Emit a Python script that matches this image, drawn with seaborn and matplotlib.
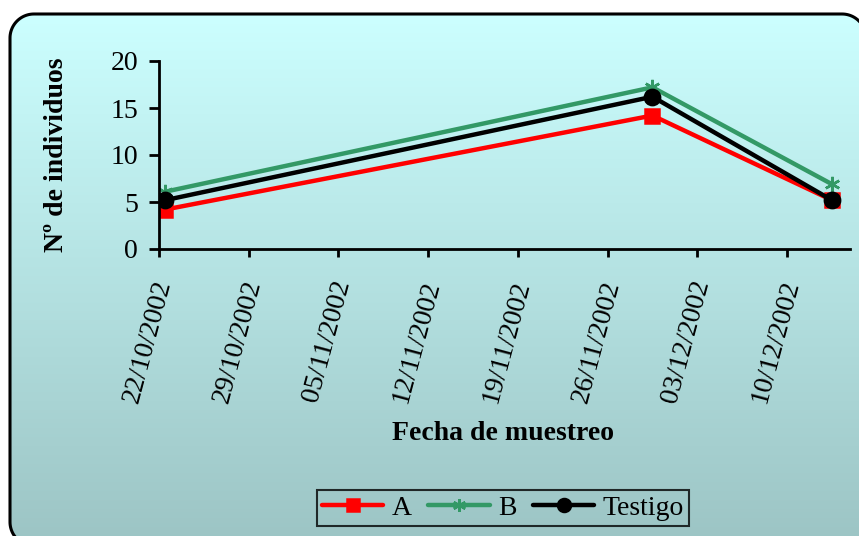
import numpy as np
import pandas as pd
import matplotlib
matplotlib.use("Agg")
import matplotlib.pyplot as plt
import matplotlib.dates as mdates
import matplotlib.transforms as mtransforms
from matplotlib.patches import Polygon
from matplotlib.lines import Line2D
import seaborn as sns

# data
fechas = pd.to_datetime(["2002-10-22 12:00", "2002-11-29 12:00", "2002-12-13 12:00"])
serie_a = [4.2, 14.2, 5.2]
serie_b = [6.1, 17.2, 6.9]
testigo = [5.2, 16.2, 5.2]
tick_fechas = pd.date_range("2002-10-22", periods=8, freq="7D")

sns.set_theme(style="white")
plt.rcParams["font.family"] = ["Liberation Serif", "DejaVu Serif"]
plt.rcParams["font.size"] = 20
for k in ["text.color", "axes.labelcolor", "xtick.color", "ytick.color"]:
    plt.rcParams[k] = "black"

W, H = 859, 536
fig = plt.figure(figsize=(W / 100, H / 100), dpi=100)
fig.patch.set_facecolor("white")


def rounded_rect(x0, x1, y0, y1, r, n=24):
    pts = []
    corners = [(x1 - r, y1 - r, 0), (x0 + r, y1 - r, 90),
               (x0 + r, y0 + r, 180), (x1 - r, y0 + r, 270)]
    for cx, cy, a0 in corners:
        a = np.radians(np.linspace(a0, a0 + 90, n))
        pts.extend(zip(cx + r * np.cos(a), cy + r * np.sin(a)))
    return np.array(pts)


# background: rounded box with vertical gradient (pixel coords, y up)
bg = fig.add_axes([0, 0, 1, 1], zorder=-1)
top_c = np.array([204, 255, 255]) / 255
bot_c = np.array([156, 196, 196]) / 255
t = np.linspace(0, 1, 256)[:, None]
grad = (top_c * (1 - t) + bot_c * t)[:, None, :]
x0, x1, y0, y1, r = 10, 866, H - 546, H - 14, 24
im = bg.imshow(grad, extent=[x0, x1, y0, y1], aspect="auto", zorder=0)
bg.set_xlim(0, W)
bg.set_ylim(0, H)
bg.axis("off")
box = Polygon(rounded_rect(x0, x1, y0, y1, r), closed=True, transform=bg.transData,
              facecolor="none", edgecolor="black", lw=2.2)
bg.add_patch(box)
im.set_clip_path(box)

ax = fig.add_axes([159 / W, 1 - 249 / H, (850 - 159) / W, (249 - 61) / H])
ax.set_facecolor("none")

estilos = [
    ("A", serie_a, "#ff0000", "s", 10),
    ("B", serie_b, "#339966", (6, 2, 0), 11),
    ("Testigo", testigo, "black", "o", 11),
]
handles = []
for nombre, vals, col, mk, ms in estilos:
    df = pd.DataFrame({"fecha": fechas, "n": vals})
    sns.lineplot(data=df, x="fecha", y="n", ax=ax, color=col, lw=3.2,
                 marker=mk, markersize=ms, markeredgecolor=col,
                 markerfacecolor=col, markeredgewidth=1.8, label=nombre,
                 legend=False)
    handles.append(Line2D([], [], color=col, lw=3.2, marker=mk, markersize=ms * 0.85,
                          markeredgecolor=col, markerfacecolor=col,
                          markeredgewidth=1.8, label=nombre))

ax.set_ylim(0, 20)
ax.set_yticks([0, 5, 10, 15, 20])
ax.set_xlim(pd.Timestamp("2002-10-22"), pd.Timestamp("2002-12-14 22:00"))
ax.set_xticks(tick_fechas)
ax.xaxis.set_major_formatter(mdates.DateFormatter("%d/%m/%Y"))

for side in ["top", "right"]:
    ax.spines[side].set_visible(False)
for side in ["left", "bottom"]:
    ax.spines[side].set_color("black")
    ax.spines[side].set_linewidth(2)

ax.tick_params(axis="y", direction="out", length=7, width=2, pad=8,
               labelsize=20, colors="black", left=True)
ax.tick_params(axis="x", direction="out", length=6, width=2, pad=17,
               labelsize=20, colors="black", bottom=True)
off = mtransforms.ScaledTranslation(5 / 100, 0, fig.dpi_scale_trans)
for lab in ax.get_xticklabels():
    lab.set_rotation(75)
    lab.set_ha("right")
    lab.set_va("center")
    lab.set_rotation_mode("anchor")
    lab.set_transform(lab.get_transform() + off)

ax.set_xlabel("")
ax.set_ylabel("")
fig.text(503 / W, 1 - 433 / H, "Fecha de muestreo", ha="center", va="center",
         fontsize=20, fontweight="bold")
fig.text(57 / W, 1 - 155 / H, "Nº de individuos", ha="center", va="center",
         rotation=90, fontsize=20, fontweight="bold")

leg = fig.legend(handles=handles, loc="center", bbox_to_anchor=(503 / W, 1 - 508 / H),
                 ncol=3, frameon=True, fancybox=False, fontsize=20,
                 handlelength=2.2, handletextpad=0.3, columnspacing=0.6,
                 borderpad=0.2)
leg.get_frame().set_edgecolor("black")
leg.get_frame().set_linewidth(1.5)
leg.get_frame().set_facecolor("none")

fig.savefig("out.png", dpi=100)
